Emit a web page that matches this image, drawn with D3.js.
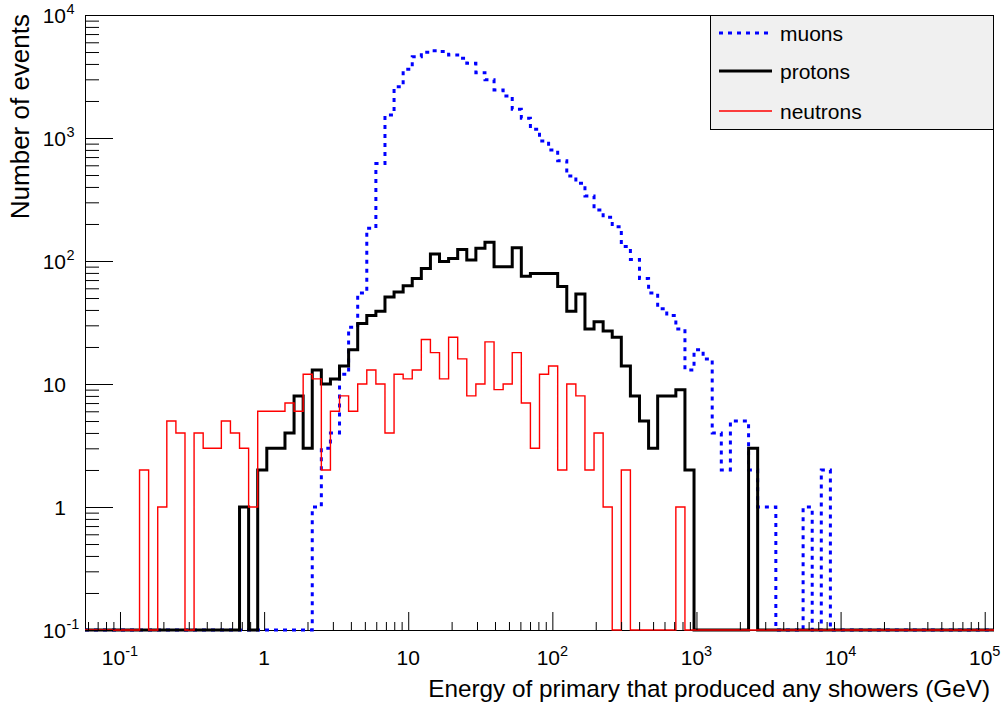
<!DOCTYPE html>
<html>
<head>
<meta charset="utf-8">
<script src="https://cdn.jsdelivr.net/npm/d3@7"></script>
<style>
  html, body { margin: 0; padding: 0; background: #fff; }
  svg { display: block; }
  text { font-family: "Liberation Sans", Arial, Helvetica, sans-serif; fill: #000; }
</style>
</head>
<body>
<svg id="chart" width="1004" height="709"></svg>
<script>
// Histogram binning: 100 equal-width bins in log10(E / GeV)
const logEmin = -1.2428;
const logEmax = 5.0645;
const nBins = 100;

// Bin contents (events per bin), bins 0..99
const muons = [
  0,0,0,0,0,0,0,0,0,0, 0,0,0,0,0,0,0,0,0,0, 0,0,0,0,0,
  1,3,4,12,29,55,185,620,1540,2610,
  3620,4580,4980,5130,5040,4730,4450,4050,3400,2970,
  2460,2200,1710,1450,1180,945,800,654,491,428,
  338,260,227,190,131,103,72,55,41,36,
  28,13,19,16,4,2,5,5,2,1,
  1,0,0,0,1,0,2,
  0,0,0,0,0,0,0,0,0,0,0,0,0,0,0,0,0,0
];
const protons = [
  0,0,0,0,0,0,0,0,0,0, 0,0,0,0,0,0,0,
  1,0,2,3,3,4,8,3,13,10,11,14,19,
  31,36,39,51,56,63,72,87,114,99,
  105,124,102,127,142,90,90,128,75,79,
  79,79,62,39,54,28,32,27,24,14,
  8,5,3,8,8,9,2,
  0,0,0,0,0,0,
  3,
  0,0,0,0,0,0,0,0,0,0,0,0,0,0,0,0,0,0,0,0,0,0,0,0,0,0
];
const neutrons = [
  0,0,0,0,0,0,
  2,0,1,5,4,0,4,3,3,5,4,3,1,6,
  6,6,7,6,12,11,2,6,8,6,
  10,13,10,4,12,11,13,23,18,11,
  24,16,8,10,22,9,10,18,7,3,
  12,14,2,10,8,2,4,1,0,2,
  0,0,0,0,0,
  1,
  0,0,0,0,0,0,0,0,0,0,0,0,0,0,0,0,0,0,0,0,0,0,0,0,0,0,0,0,0,0,0,0,0,0
];

const seriesNames = ["muons", "protons", "neutrons"];
const xMajorExp = [-1, 0, 1, 2, 3, 4, 5];
const yMajorExp = [-1, 0, 1, 2, 3, 4];
const xTitle = "Energy of primary that produced any showers (GeV)";
const yTitle = "Number of events";

// Frame geometry
const frame = { left: 85, right: 994, top: 15, bottom: 630 };
const yMin = 0.1, yMax = 1e4;

const svg = d3.select("#chart");

const x = d3.scaleLog()
  .domain([Math.pow(10, logEmin), Math.pow(10, logEmax)])
  .range([frame.left, frame.right]);
const y = d3.scaleLog()
  .domain([yMin, yMax])
  .range([frame.bottom, frame.top]);

// Bin edges
const edges = d3.range(nBins + 1).map(k => Math.pow(10, logEmin + k * (logEmax - logEmin) / nBins));

// Minor / major tick values
function logTicks(lo, hi, expLo, expHi) {
  const out = [];
  for (let e = expLo; e <= expHi; e++) {
    for (let m = 2; m <= 9; m++) {
      const v = m * Math.pow(10, e);
      if (v > lo && v < hi) out.push(v);
    }
  }
  return out;
}
const [xLo, xHi] = x.domain();
const xMinor = logTicks(xLo, xHi, -2, 5);
const xMajor = xMajorExp.map(e => Math.pow(10, e));
const yMinor = logTicks(yMin, yMax, -1, 3);
const yMajor = yMajorExp.map(e => Math.pow(10, e));

// Frame
svg.append("rect")
  .attr("x", frame.left + 0.5).attr("y", frame.top + 0.5)
  .attr("width", frame.right - frame.left - 1).attr("height", frame.bottom - frame.top)
  .attr("fill", "none").attr("stroke", "#000").attr("stroke-width", 1);

// Histograms drawn as step outlines; empty bins sit on the lower frame edge
const stepLine = d3.line()
  .x(d => x(d[0]))
  .y(d => d[1] > 0 ? y(d[1]) : y(yMin));

function stepPoints(values) {
  return values.flatMap((v, k) => [[edges[k], v], [edges[k + 1], v]]);
}

const styles = {
  muons:    { color: "#0000ff", width: 3,   dash: "4,5" },
  protons:  { color: "#000000", width: 3,   dash: null },
  neutrons: { color: "#ff0000", width: 1.4, dash: null }
};
const seriesData = { muons, protons, neutrons };

const gHist = svg.append("g");
seriesNames.forEach(name => {
  const s = styles[name];
  gHist.append("path")
    .attr("d", stepLine(stepPoints(seriesData[name])))
    .attr("fill", "none")
    .attr("stroke", s.color)
    .attr("stroke-width", s.width)
    .attr("stroke-linejoin", "miter")
    .attr("stroke-dasharray", s.dash);
});

// Axes (ticks drawn inward)
function cleanAxis(g) {
  g.select(".domain").remove();
  g.selectAll("line").attr("stroke", "#000");
}
svg.append("g").attr("transform", `translate(0,${frame.bottom})`)
  .call(d3.axisBottom(x).tickValues(xMinor).tickSize(-8).tickFormat(""))
  .call(cleanAxis);
svg.append("g").attr("transform", `translate(0,${frame.bottom})`)
  .call(d3.axisBottom(x).tickValues(xMajor).tickSize(-18).tickFormat(""))
  .call(cleanAxis);
svg.append("g").attr("transform", `translate(${frame.left},0)`)
  .call(d3.axisLeft(y).tickValues(yMinor).tickSize(-14).tickFormat(""))
  .call(cleanAxis);
svg.append("g").attr("transform", `translate(${frame.left},0)`)
  .call(d3.axisLeft(y).tickValues(yMajor).tickSize(-28).tickFormat(""))
  .call(cleanAxis);

// X tick labels: 1, 10, and 10^n
const labelSize = 21, supSize = 14.5;
const xl = svg.append("g").selectAll("text").data(xMajorExp).join("text")
  .attr("x", e => x(Math.pow(10, e)))
  .attr("y", 665)
  .attr("text-anchor", "middle")
  .style("font-size", labelSize + "px");
xl.append("tspan").text(e => e === 0 ? "1" : "10");
xl.filter(e => e !== 0 && e !== 1).append("tspan")
  .attr("dy", -9).style("font-size", supSize + "px").text(e => String(e));

// Y tick labels
const yLabelRight = 66;
const yl = svg.append("g").selectAll("g").data(yMajorExp).join("g");
yl.append("text")
  .attr("x", yLabelRight)
  .attr("y", e => y(Math.pow(10, e)) + 7.5)
  .attr("text-anchor", "end")
  .style("font-size", labelSize + "px")
  .text(e => e === 0 ? "1" : "10");
yl.filter(e => e !== 0 && e !== 1).append("text")
  .attr("x", yLabelRight + 0.5)
  .attr("y", e => y(Math.pow(10, e)) - 1)
  .attr("text-anchor", "start")
  .style("font-size", supSize + "px")
  .text(e => String(e));

// Axis titles
svg.append("text")
  .attr("x", 990).attr("y", 697)
  .attr("text-anchor", "end")
  .style("font-size", "24.3px")
  .text(xTitle);
svg.append("text")
  .attr("transform", "translate(29,14) rotate(-90)")
  .attr("text-anchor", "end")
  .style("font-size", "26px")
  .text(yTitle);

// Legend
const legend = svg.append("g");
legend.append("rect")
  .attr("x", 710.5).attr("y", 15.5).attr("width", 283).attr("height", 114)
  .attr("fill", "#f0f0f0").attr("stroke", "#000").attr("stroke-width", 1);
const legendRowY = [33, 71, 111];
seriesNames.forEach((name, i) => {
  const s = styles[name];
  legend.append("line")
    .attr("x1", 719).attr("x2", 772)
    .attr("y1", legendRowY[i]).attr("y2", legendRowY[i])
    .attr("stroke", s.color).attr("stroke-width", s.width)
    .attr("stroke-dasharray", s.dash);
  legend.append("text")
    .attr("x", 780).attr("y", legendRowY[i] + 7.5)
    .style("font-size", "21px")
    .text(name);
});
</script>
</body>
</html>
